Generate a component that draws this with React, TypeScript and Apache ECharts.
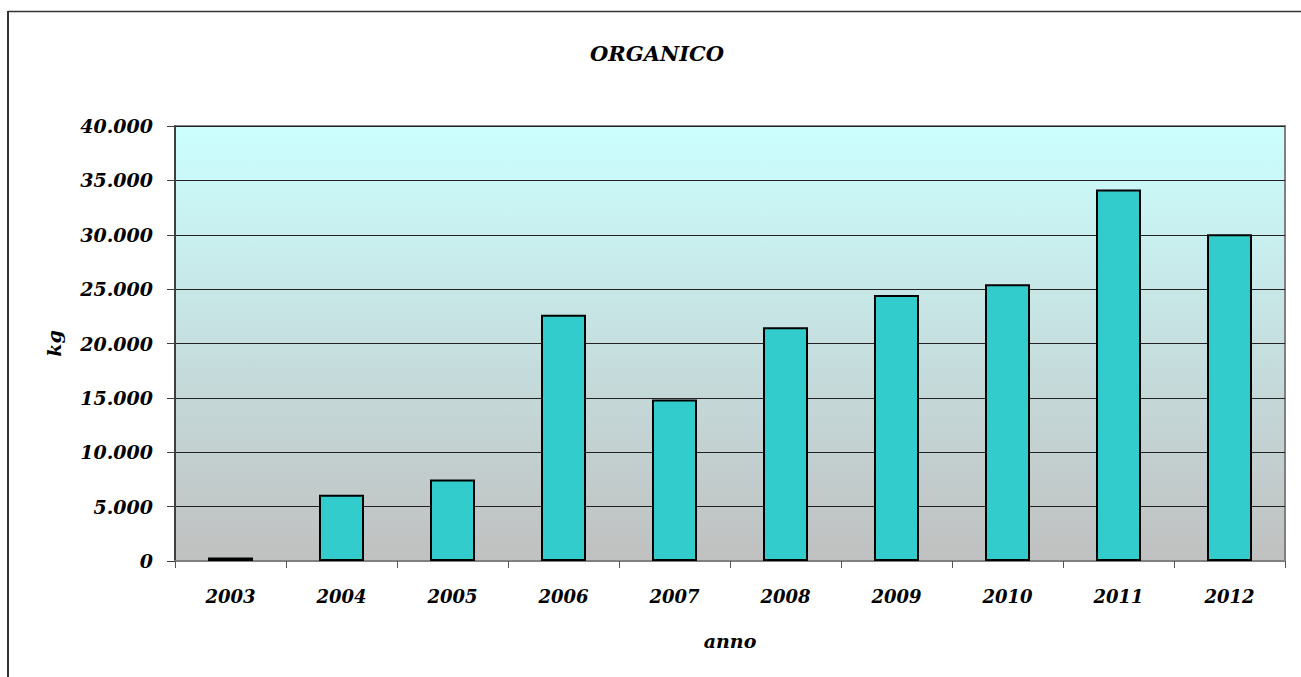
import React, { useEffect, useRef } from "react";
import * as echarts from "echarts";

const categories = ["2003", "2004", "2005", "2006", "2007", "2008", "2009", "2010", "2011", "2012"];
const values = [330, 6100, 7500, 22650, 14850, 21500, 24450, 25450, 34150, 30050];
const titleText = "ORGANICO";
const xName = "anno";
const yName = "kg";
const yMin = 0;
const yMax = 40000;
const yStep = 5000;

const FONT = "'DejaVu Serif', serif";

function fmt(v: number): string {
  return String(v).replace(/\B(?=(\d{3})+(?!\d))/g, ".");
}

export default function App() {
  const ref = useRef<HTMLDivElement>(null);
  useEffect(() => {
    if (!ref.current) return;
    const chart = echarts.init(ref.current, null, { renderer: "svg" });
    const labelStyle = {
      color: "#000",
      fontFamily: FONT,
      fontStyle: "italic" as const,
      fontWeight: "bold" as const,
      fontSize: 18,
    };
    chart.setOption({
      animation: false,
      backgroundColor: "#fff",
      grid: {
        left: 175,
        top: 126,
        width: 1110,
        height: 435,
        show: true,
        borderColor: "#808080",
        borderWidth: 2,
        backgroundColor: new echarts.graphic.LinearGradient(0, 0, 0, 1, [
          { offset: 0, color: "#CCFFFF" },
          { offset: 1, color: "#C0C0C0" },
        ]),
      },
      graphic: [
        { type: "line", shape: { x1: 8, y1: 11.5, x2: 1301, y2: 11.5 }, style: { stroke: "#333", lineWidth: 1.5 } },
        { type: "line", shape: { x1: 8, y1: 11, x2: 8, y2: 677 }, style: { stroke: "#333", lineWidth: 2 } },
        {
          type: "text",
          x: 657,
          y: 53,
          style: {
            text: titleText,
            align: "center",
            verticalAlign: "middle",
            fill: "#000",
            font: `italic bold 21px ${FONT}`,
          },
        },
      ],
      xAxis: {
        type: "category",
        data: categories,
        name: xName,
        nameLocation: "middle",
        nameGap: 70,
        nameTextStyle: { ...labelStyle, fontSize: 19 },
        axisLine: { show: true, lineStyle: { color: "#808080", width: 2 } },
        axisTick: { show: true, length: 7, alignWithLabel: false, lineStyle: { color: "#555", width: 1 } },
        axisLabel: { ...labelStyle, margin: 26 },
        splitLine: { show: false },
      },
      yAxis: {
        type: "value",
        min: yMin,
        max: yMax,
        interval: yStep,
        name: yName,
        nameLocation: "middle",
        nameRotate: 90,
        nameGap: 112,
        nameTextStyle: { ...labelStyle, fontSize: 19 },
        axisLine: { show: true, lineStyle: { color: "#404040", width: 2 } },
        axisTick: { show: true, length: 8, lineStyle: { color: "#404040", width: 1 } },
        axisLabel: { ...labelStyle, fontSize: 19, margin: 22, formatter: (v: number) => fmt(v) },
        splitLine: { show: true, lineStyle: { color: "#222", width: 1 } },
      },
      series: [
        {
          type: "bar",
          data: values,
          barWidth: 45,
          itemStyle: { color: "#33CCCC", borderColor: "#000", borderWidth: 2 },
        },
      ],
    });
    return () => chart.dispose();
  }, []);
  return (
    <div
      ref={ref}
      style={{ position: "fixed", left: 0, top: 0, width: 1301, height: 677 }}
    />
  );
}
